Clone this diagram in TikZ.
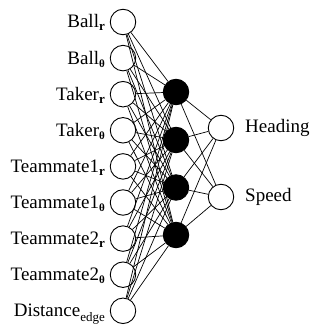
\documentclass[tikz,border=0pt]{standalone}
\usepackage{fontspec}
\setmainfont{Liberation Serif}
\newcommand{\lowidx}[1]{\raisebox{-3pt}{\fontsize{13}{13}\selectfont\bfseries #1}}
\newcommand{\lowth}{\raisebox{-3pt}{\fontsize{11}{11}\selectfont\bfseries θ}}
\newcommand{\lowtxt}[1]{\raisebox{-5pt}{\fontsize{13}{13}\selectfont #1}}
\begin{document}
\begin{tikzpicture}[x=1pt,y=1pt,
  neuron/.style={circle,draw=black,line width=0.9pt,minimum size=25.5pt,inner sep=0pt},
  inneuron/.style={neuron,fill=white},
  hidneuron/.style={neuron,fill=black},
  outneuron/.style={neuron,fill=white},
  inlabel/.style={anchor=base east,inner sep=0pt,font=\fontsize{19}{19}\selectfont},
  outlabel/.style={anchor=base west,inner sep=0pt,font=\fontsize{19}{19}\selectfont},
  link/.style={draw=black,line width=0.7pt}]
\useasboundingbox (0,0) rectangle (320,327);

% input layer
\foreach \i/\txt in {1/{Ball\lowidx{r}},2/{Ball\lowth},3/{Taker\lowidx{r}},4/{Taker\lowth},
  5/{Teammate1\lowidx{r}},6/{Teammate1\lowth},7/{Teammate2\lowidx{r}},8/{Teammate2\lowth},
  9/{Distance\lowtxt{edge}}}{
  \node[inneuron] (in\i) at (123,{327-22-36.1*(\i-1)}) {};
  \node[inlabel] (inl\i) at ([xshift=-18pt,yshift=-6pt]in\i.center) {\txt};
}

% hidden layer
\node[hidneuron] (h1) at (176,{327-92}) {};
\node[hidneuron] (h2) at (176,{327-140}) {};
\node[hidneuron] (h3) at (176,{327-187.5}) {};
\node[hidneuron] (h4) at (176,{327-235}) {};

% output layer
\node[outneuron] (o1) at (221,{327-128}) {};
\node[outneuron] (o2) at (221,{327-197}) {};
\node[outlabel] (ol1) at ([xshift=24pt,yshift=-5pt]o1.center) {Heading};
\node[outlabel] (ol2) at ([xshift=24pt,yshift=-5pt]o2.center) {Speed};

% connections
\foreach \i in {1,...,9}{
  \foreach \j in {1,...,4}{
    \draw[link] (in\i) -- (h\j);
  }
}
\foreach \j in {1,...,4}{
  \foreach \k in {1,2}{
    \draw[link] (h\j) -- (o\k);
  }
}
\end{tikzpicture}
\end{document}
